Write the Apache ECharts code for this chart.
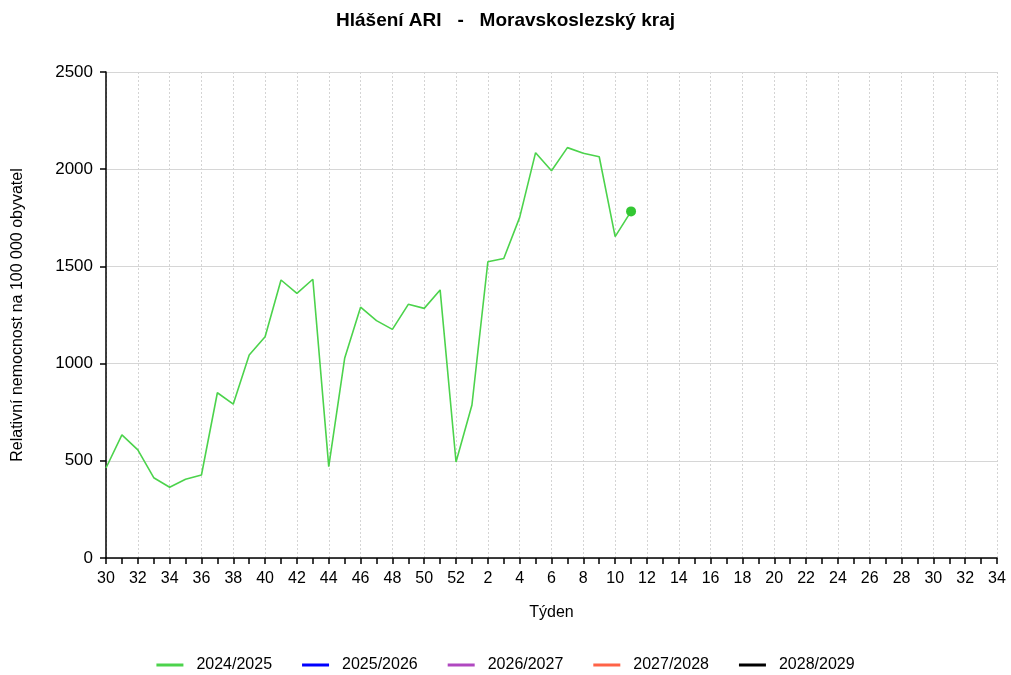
<!DOCTYPE html>
<html>
<head>
<meta charset="utf-8">
<script src="https://cdn.jsdelivr.net/npm/echarts@6/dist/echarts.min.js"></script>
<style>
  html, body { margin: 0; padding: 0; background: #fff; }
  #chart { width: 1011px; height: 675px; }
</style>
</head>
<body>
<div id="chart"></div>
<script>
// týdny sezóny 30..52, 1..34
const weeks = ['30','31','32','33','34','35','36','37','38','39','40','41','42','43','44','45','46','47','48','49','50','51','52',
  '1','2','3','4','5','6','7','8','9','10','11','12','13','14','15','16','17','18','19','20','21','22','23','24','25','26','27','28','29','30','31','32','33','34']
const seasons = ['2024/2025','2025/2026','2026/2027','2027/2028','2028/2029']
const seasonColors = ['#4cd34c','#0000ff','#b048c0','#ff6347','#000000']
// 2024/2025
const s2425 = [463,633,556,413,364,405,427,850,792,1044,1138,1430,1361,1434,470,1027,1290,1221,1176,1305,1284,1379,494,
  787,1524,1541,1752,2085,1992,2111,2082,2064,1653,1783]
const s2526 = []
const s2627 = []
const s2728 = []
const s2829 = []
const seriesValues = [s2425, s2526, s2627, s2728, s2829]

const chart = echarts.init(document.getElementById('chart'))

const series = seasons.map((name, i) => {
  const vals = seriesValues[i]
  const data = vals.map((v, j) => j === vals.length - 1
    ? { value: v, symbol: 'circle', symbolSize: 10, itemStyle: { color: '#33c733' } }
    : v)
  return {
    name: name,
    type: 'line',
    data: data,
    symbol: 'none',
    showSymbol: true,
    lineStyle: { color: seasonColors[i], width: 1.6 },
    itemStyle: { color: seasonColors[i] },
    animation: false
  }
})

chart.setOption({
  title: {
    text: 'Hlášení ARI   -   Moravskoslezský kraj',
    left: 'center',
    top: 6,
    textStyle: { fontFamily: 'Liberation Sans', fontSize: 19, fontWeight: 'bold', color: '#000' }
  },
  legend: {
    data: seasons,
    top: 652,
    left: 'center',
    icon: 'rect',
    itemWidth: 27,
    itemHeight: 3,
    itemGap: 30,
    textStyle: { fontFamily: 'Liberation Sans', fontSize: 16, color: '#000', padding: [0, 0, 0, 8] }
  },
  grid: { left: 106, right: 14, top: 72, bottom: 117 },
  xAxis: {
    type: 'category',
    data: weeks,
    boundaryGap: false,
    name: 'Týden',
    nameLocation: 'middle',
    nameGap: 47,
    nameTextStyle: { fontFamily: 'Liberation Sans', fontSize: 16, color: '#000' },
    axisLine: { lineStyle: { color: '#000', width: 1.5 } },
    axisTick: { interval: 0, length: 6, lineStyle: { color: '#000', width: 1.5 } },
    axisLabel: { interval: 1, fontFamily: 'Liberation Sans', fontSize: 16, color: '#000', margin: 13 },
    splitLine: { show: true, interval: 1, lineStyle: { color: '#d4d4d4', type: [2, 2], width: 1 } }
  },
  yAxis: {
    type: 'value',
    min: 0,
    max: 2500,
    interval: 500,
    name: 'Relativní nemocnost na 100 000 obyvatel',
    nameLocation: 'middle',
    nameGap: 80,
    nameTextStyle: { fontFamily: 'Liberation Sans', fontSize: 16, color: '#000' },
    axisLine: { show: true, lineStyle: { color: '#000', width: 1.5 } },
    axisTick: { show: true, length: 6, lineStyle: { color: '#000', width: 1.5 } },
    axisLabel: { fontFamily: 'Liberation Sans', fontSize: 17, color: '#000', margin: 13, formatter: v => String(v) },
    splitLine: { show: true, lineStyle: { color: '#d6d6d6', width: 1 } }
  },
  series: series
})
</script>
</body>
</html>
